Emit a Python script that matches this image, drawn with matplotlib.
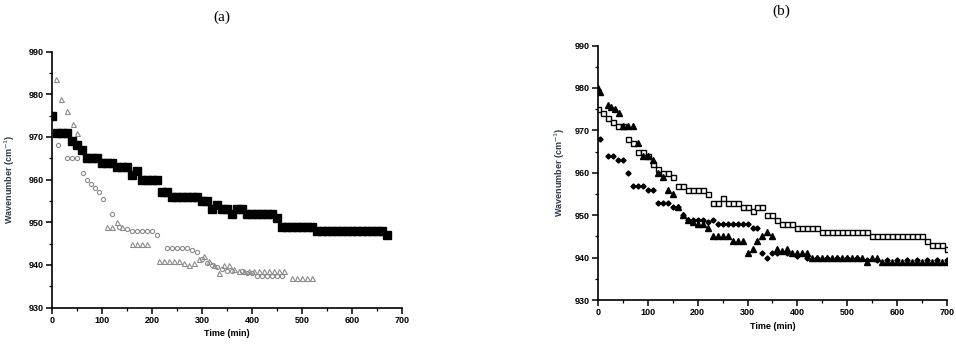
import matplotlib
matplotlib.use('Agg')
import matplotlib.pyplot as plt
import matplotlib.ticker as tck

# ---- panel (a) ----
a_sq_t = [0, 10, 20, 30, 40, 50, 60, 70, 80, 90, 100, 110, 120, 130, 140, 150,
          160, 170, 180, 190, 200, 210, 220, 230, 240, 250, 260, 270, 280, 290,
          300, 310, 320, 330, 340, 350, 360, 370, 380, 390, 400, 410, 420, 430,
          440, 450, 460, 470, 480, 490, 500, 510, 520, 530, 540, 550, 560, 570,
          580, 590, 600, 610, 620, 630, 640, 650, 660, 670]
a_sq_v = [975, 971, 971, 971, 969, 968, 967, 965, 965, 965, 964, 964, 964, 963,
          963, 963, 961, 962, 960, 960, 960, 960, 957, 957, 956, 956, 956, 956,
          956, 956, 955, 955, 953, 954, 953, 953, 952, 953, 953, 952, 952, 952,
          952, 952, 952, 951, 949, 949, 949, 949, 949, 949, 949, 948, 948, 948,
          948, 948, 948, 948, 948, 948, 948, 948, 948, 948, 948, 947]

a_tri_t = [8, 17, 30, 42, 50, 60, 110, 120, 130, 140, 160, 170, 180, 190, 215,
           225, 235, 245, 255, 265, 275, 285, 295, 305, 315, 325, 335, 345, 355,
           365, 375, 385, 395, 405, 415, 425, 435, 445, 455, 465, 480, 490, 500,
           510, 520]
a_tri_v = [983.5, 979, 976, 973, 971, 967.5, 949, 949, 950, 949, 945, 945, 945,
           945, 941, 941, 941, 941, 941, 940.5, 940, 940.5, 941.5, 942, 941,
           940, 938, 940, 940, 939, 938.5, 938.5, 938.5, 938.5, 938.5, 938.5,
           938.5, 938.5, 938.5, 938.5, 937, 937, 937, 937, 937]

a_cir_t = [12, 30, 40, 50, 62, 70, 78, 86, 94, 102, 120, 135, 150, 160, 170,
           180, 190, 200, 210, 230, 240, 250, 260, 270, 280, 290, 300, 310, 320,
           330, 340, 350, 360, 380, 390, 400, 410, 420, 430, 440, 450, 460]
a_cir_v = [968, 965, 965, 965, 961.5, 960, 959, 958, 957, 955.5, 952, 949,
           948.5, 948, 948, 948, 948, 948, 947, 944, 944, 944, 944, 944, 943.5,
           943, 941.5, 940.5, 940, 939.5, 939, 938.5, 938.5, 938.5, 938, 938,
           937.5, 937.5, 937.5, 937.5, 937.5, 937.5]

# ---- panel (b) ----
b_sq_t = [0, 10, 20, 30, 40, 50, 60, 70, 80, 90, 100, 110, 120, 130, 140, 150,
          160, 170, 180, 190, 200, 210, 220, 230, 240, 250, 260, 270, 280, 290,
          300, 310, 320, 330, 340, 350, 360, 370, 380, 390, 400, 410, 420, 430,
          440, 450, 460, 470, 480, 490, 500, 510, 520, 530, 540, 550, 560, 570,
          580, 590, 600, 610, 620, 630, 640, 650, 660, 670, 680, 690, 700]
b_sq_v = [975, 974, 973, 972, 971, 971, 968, 967, 965, 965, 964, 962, 961, 960,
          960, 959, 957, 957, 956, 956, 956, 956, 955, 953, 953, 954, 953, 953,
          953, 952, 952, 951, 952, 952, 950, 950, 949, 948, 948, 948, 947, 947,
          947, 947, 947, 946, 946, 946, 946, 946, 946, 946, 946, 946, 946, 945,
          945, 945, 945, 945, 945, 945, 945, 945, 945, 945, 944, 943, 943, 943,
          942]

b_tri_t = [0, 5, 20, 27, 35, 43, 50, 60, 70, 80, 90, 100, 110, 120, 130, 140,
           150, 160, 170, 180, 190, 200, 210, 220, 230, 240, 250, 260, 270, 280,
           290, 300, 310, 320, 330, 340, 350, 360, 370, 380, 390, 400, 410, 420,
           430, 440, 450, 460, 470, 480, 490, 500, 510, 520, 530, 540, 550, 560,
           570, 580, 590, 600, 610, 620, 630, 640, 650, 660, 670, 680, 690, 700]
b_tri_v = [980, 979, 976, 975.5, 975, 974, 971, 971, 971, 967, 964, 964, 963,
           960, 959, 956, 955, 952, 950, 949, 948.5, 948, 948, 947, 945, 945,
           945, 945, 944, 944, 944, 941, 942, 944, 945, 946, 945, 942, 941.5,
           942, 941, 941, 941, 941, 940, 940, 940, 940, 940, 940, 940, 940, 940,
           940, 940, 939, 940, 940, 939, 939, 939, 939, 939, 939, 939, 939, 939,
           939, 939, 939, 939, 939]

b_dia_t = [5, 20, 30, 40, 50, 60, 70, 80, 90, 100, 110, 120, 130, 140, 150, 160,
           170, 180, 190, 200, 210, 220, 230, 240, 250, 260, 270, 280, 290, 300,
           310, 320, 330, 340, 350, 360, 380, 400, 420, 440, 460, 480, 500, 520,
           540, 560, 580, 600, 620, 640, 660, 680, 700]
b_dia_v = [968, 964, 964, 963, 963, 960, 957, 957, 957, 956, 956, 953, 953, 953,
           952, 952, 950, 949, 949, 949, 949, 948.5, 949, 948, 948, 948, 948,
           948, 948, 948, 947, 947, 941, 940, 941, 941, 941, 940.5, 940, 940,
           940, 940, 940, 940, 939.5, 939.5, 939.5, 939.5, 939.5, 939.5, 939.5,
           939.5, 939.5]

plt.rcParams['font.family'] = ['Liberation Sans', 'DejaVu Sans']

fig = plt.figure(figsize=(9.56, 3.56), dpi=100)
ax_a = fig.add_axes([0.0544, 0.136, 0.366, 0.719])
ax_b = fig.add_axes([0.6255, 0.157, 0.365, 0.715])

gray = '#8c8c8c'
ax_a.plot(a_cir_t, a_cir_v, 'o', ls='none', ms=3, mfc='none', mec=gray, mew=0.8)
ax_a.plot(a_tri_t, a_tri_v, '^', ls='none', ms=3.6, mfc='none', mec=gray, mew=0.8)
ax_a.plot(a_sq_t, a_sq_v, 's', ls='none', ms=5.2, color='black')

ax_b.plot(b_sq_t, b_sq_v, 's', ls='none', ms=3.6, mfc='white', mec='black', mew=1.0)
ax_b.plot(b_dia_t, b_dia_v, 'D', ls='none', ms=2.6, color='black')
ax_b.plot(b_tri_t, b_tri_v, '^', ls='none', ms=3.8, color='black')

for ax, title, ylab_x, title_x in [(ax_a, '(a)', -0.1, 0.485),
                                   (ax_b, '(b)', -0.09, 0.525)]:
	ax.set_xlim(0, 700)
	ax.set_ylim(930, 990)
	ax.spines['top'].set_visible(False)
	ax.spines['right'].set_visible(False)
	ax.spines['left'].set_linewidth(1.2)
	ax.spines['bottom'].set_linewidth(1.2)
	ax.xaxis.set_major_locator(tck.MultipleLocator(100))
	ax.xaxis.set_minor_locator(tck.MultipleLocator(50))
	ax.yaxis.set_major_locator(tck.MultipleLocator(10))
	ax.yaxis.set_minor_locator(tck.MultipleLocator(5))
	ax.tick_params(which='major', direction='out', length=4, width=1.1,
	               labelsize=6.5, pad=2)
	ax.tick_params(which='minor', direction='out', length=2.5, width=0.9)
	for lab in ax.get_xticklabels() + ax.get_yticklabels():
		lab.set_fontweight('bold')
	ax.set_xlabel('Time (min)', fontsize=6.5, fontweight='bold', labelpad=3)
	ax.set_ylabel('Wavenumber (cm$^{-1}$)', fontsize=6.5, fontweight='bold',
	              color='#2a3a4a')
	ax.yaxis.set_label_coords(ylab_x, 0.5)
	ax.set_title(title, fontsize=11, family='Liberation Serif', pad=22,
	             x=title_x)

fig.savefig('out.png', dpi=100)
